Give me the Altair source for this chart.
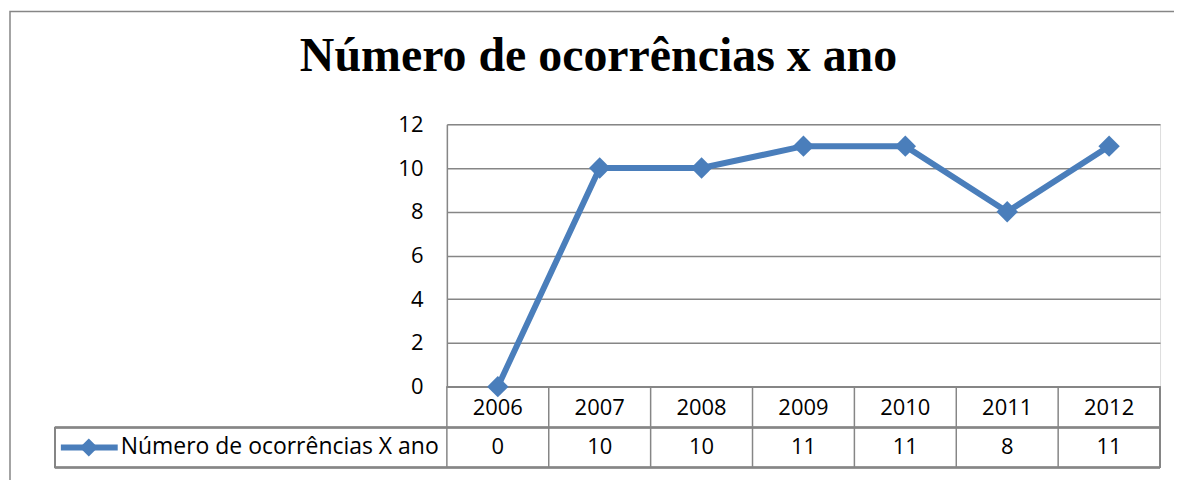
import altair as alt
import pandas as pd

anos = ["2006", "2007", "2008", "2009", "2010", "2011", "2012"]
ocorrencias = [0, 10, 10, 11, 11, 8, 11]
titulo = "Número de ocorrências x ano"
serie = "Número de ocorrências X ano"

W, H = 715, 263
BLUE = "#4A7EBB"
GRID = "#868686"
FONT = "Open Sans"
FS = 22

df = pd.DataFrame({"ano": anos, "valor": ocorrencias})

xs = alt.Scale(paddingInner=0, paddingOuter=0)
ys = alt.Scale(domain=[0, 12])


def X(**kw):
    return alt.X("ano:N", scale=xs, sort=anos, axis=None, **kw)


base = alt.Chart(df)

line = base.mark_line(color=BLUE, strokeWidth=6).encode(
    x=X(),
    y=alt.Y("valor:Q", scale=ys,
            axis=alt.Axis(title=None, values=[0, 2, 4, 6, 8, 10, 12], ticks=False,
                          domain=True, domainColor=GRID, domainWidth=1.5,
                          grid=True, gridColor=GRID, gridWidth=1.5,
                          labelFont=FONT, labelFontSize=FS, labelColor="#000000",
                          labelPadding=24)),
)

pts = base.mark_point(shape="diamond", filled=True, size=460, opacity=1, color=BLUE).encode(
    x=X(),
    y=alt.Y("valor:Q", scale=ys),
)

# data table: vertical separators at band boundaries
vsep = base.mark_rule(color=GRID, strokeWidth=1.5).encode(
    x=X(bandPosition=0),
    y=alt.value(H), y2=alt.value(H + 81),
)
vright = base.mark_rule(color=GRID, strokeWidth=1.5).encode(
    x=alt.value(W), y=alt.value(H), y2=alt.value(H + 81),
)
vlegend = base.mark_rule(color=GRID, strokeWidth=1.5).encode(
    x=alt.value(-393), y=alt.value(H + 41), y2=alt.value(H + 81),
)
hrow0 = base.mark_rule(color=GRID, strokeWidth=1.5).encode(
    x=alt.value(0), x2=alt.value(W), y=alt.value(H),
)
hrow1 = base.mark_rule(color=GRID, strokeWidth=1.5).encode(
    x=alt.value(-393), x2=alt.value(W), y=alt.value(H + 41),
)
hrow2 = base.mark_rule(color=GRID, strokeWidth=1.5).encode(
    x=alt.value(-393), x2=alt.value(W), y=alt.value(H + 81),
)

yeartext = base.mark_text(font=FONT, fontSize=FS, color="#000000", baseline="middle").encode(
    x=X(),
    y=alt.value(H + 21),
    text="ano:N",
)
valtext = base.mark_text(font=FONT, fontSize=FS, color="#000000", baseline="middle").encode(
    x=X(),
    y=alt.value(H + 61),
    text="valor:Q",
)

leg_df = pd.DataFrame({"s": [serie]})
leg_line = alt.Chart(leg_df).mark_rule(color=BLUE, strokeWidth=6).encode(
    x=alt.value(-387), x2=alt.value(-330), y=alt.value(H + 61),
)
leg_pt = alt.Chart(leg_df).mark_point(shape="diamond", filled=True, size=330, opacity=1, color=BLUE).encode(
    x=alt.value(-359), y=alt.value(H + 61),
)
leg_txt = alt.Chart(leg_df).mark_text(font=FONT, fontSize=23, color="#000000",
                                      align="left", baseline="middle").encode(
    x=alt.value(-327), y=alt.value(H + 61), text="s:N",
)

title_df = pd.DataFrame({"t": [titulo]})
title_txt = alt.Chart(title_df).mark_text(font="Liberation Serif", fontSize=48, fontWeight="bold",
                                          color="#000000", align="center", baseline="middle").encode(
    x=alt.value(152), y=alt.value(-67), text="t:N",
)

frame = alt.Chart(title_df).mark_rect(fill=None, stroke=GRID, strokeWidth=1.5).encode(
    x=alt.value(-438), x2=alt.value(W + 40), y=alt.value(-113), y2=alt.value(H + 130),
)

chart = alt.layer(
    frame, vsep, vright, vlegend, hrow0, hrow1, hrow2, line, pts, yeartext, valtext,
    leg_line, leg_pt, leg_txt, title_txt,
).properties(
    width=W, height=H,
    autosize=alt.AutoSizeParams(type="none"),
    padding={"left": 440, "top": 116, "right": 14, "bottom": 100},
).configure_view(stroke=None).configure(background="#ffffff")

chart.save("out.html", embed_options={"renderer": "svg", "actions": False})
